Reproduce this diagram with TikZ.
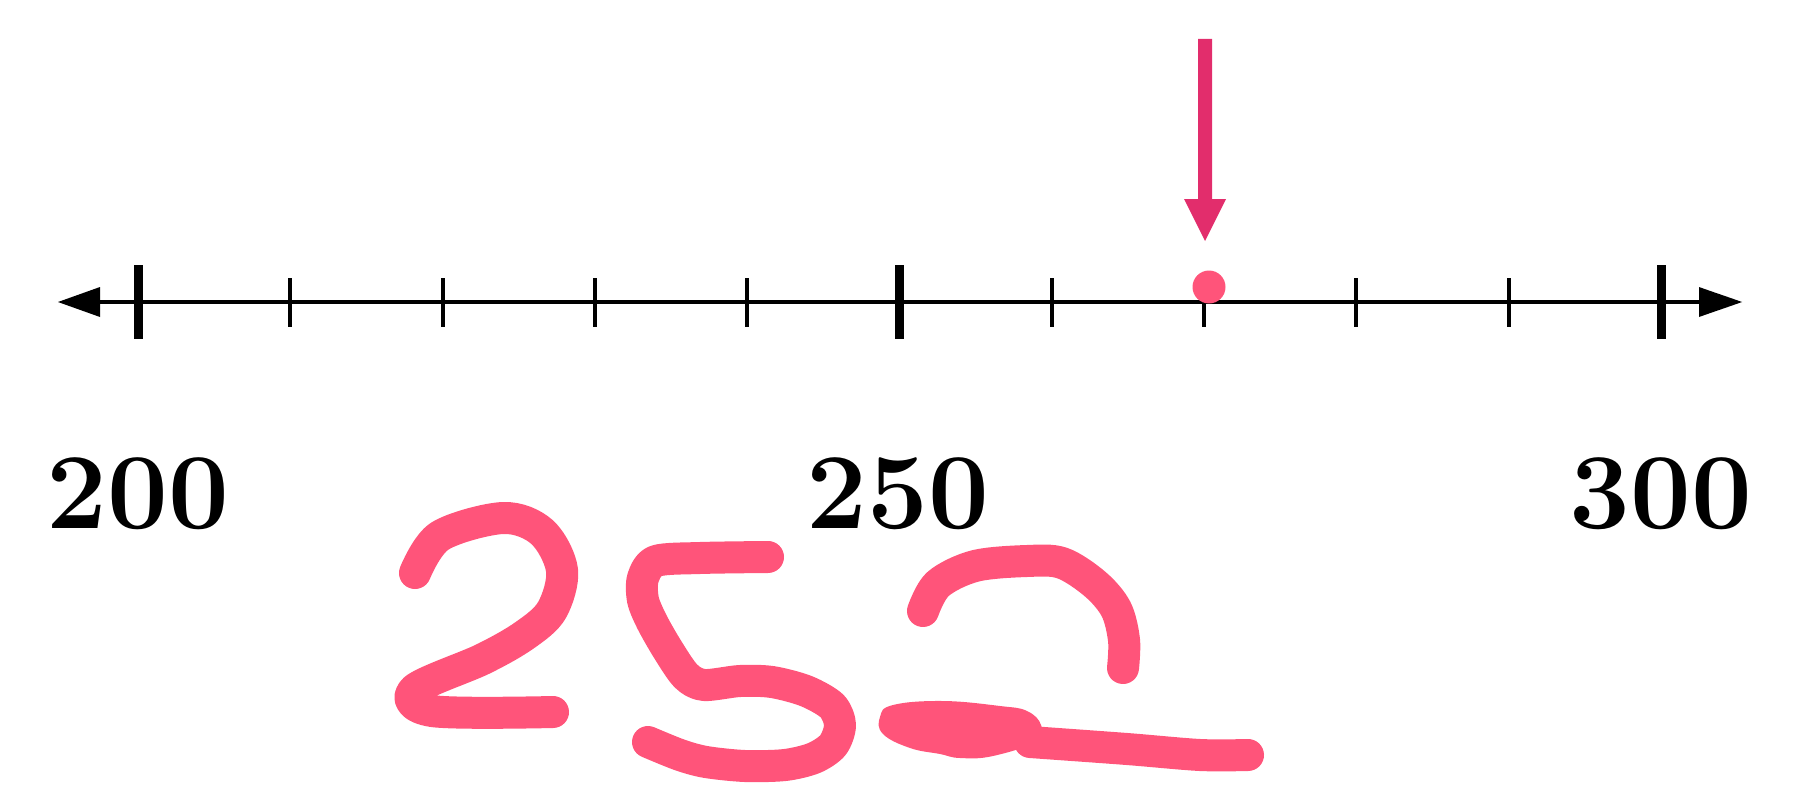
\documentclass[tikz,border=0pt]{standalone}
\usetikzlibrary{arrows.meta}
\definecolor{hand}{RGB}{255,84,122}
\definecolor{arrowpink}{RGB}{226,45,108}
\begin{document}
\begin{tikzpicture}[x=1pt,y=-1pt,
  handline/.style={draw=hand, line width=32pt, line cap=round, line join=round},
  minortick/.style={line width=4pt},
  majortick/.style={line width=9pt},
  numlabel/.style={anchor=base, inner sep=0pt, font=\fontsize{108}{120}\selectfont\bfseries}]
\useasboundingbox (0,0) rectangle (1801,800);
% axis
\coordinate (L) at (95,302);
\coordinate (R) at (1705,302);
\draw[line width=4pt] (L) -- (R);
\fill (58,302) .. controls (72,297) and (86,292) .. (100,287) -- (100,317) .. controls (86,312) and (72,307) .. (58,302) -- cycle;
\fill (1742,302) .. controls (1728,297) and (1713,292) .. (1699,287) -- (1699,317) .. controls (1713,312) and (1728,307) .. (1742,302) -- cycle;
% ticks
\foreach \i in {1,2,3,4,6,7,8,9}
  \draw[minortick] ({138+\i*152.3},278) -- ({138+\i*152.3},327);
\foreach \i in {0,5,10}
  \draw[majortick] ({138+\i*152.3},265) -- ({138+\i*152.3},339);
% labels
\node[numlabel] (n200) at (138,528) {200};
\node[numlabel] (n250) at (898,528) {250};
\node[numlabel] (n300) at (1661,528) {300};
% pink arrow and dot
\fill[arrowpink] (1198,39) -- (1212,39) -- (1212,199) -- (1226,199) -- (1205,241) -- (1184,199) -- (1198,199) -- cycle;
\fill[hand] (1209,287) circle (16.5);
% handwritten 252
\draw[handline] plot[smooth, tension=0.55] coordinates {(415,573) (440,536) (503,518) (542,532) (562,570) (552,610) (525,635) (483,659) (414,690) (432,711) (553,712)};
\draw[handline] plot[smooth, tension=0.5] coordinates {(768,557) (700,558) (656,561) (643,578) (643,600) (652,622) (668,650) (686,676) (704,685) (740,681) (772,682) (806,691) (832,706) (840,725) (833,745) (814,758) (785,765) (745,766) (706,762) (680,755) (648,742)};
\draw[handline] plot[smooth, tension=0.55] coordinates {(923,611) (938,584) (975,566) (1027,561) (1062,563) (1095,584) (1116,609) (1124,640) (1123,668)};
\fill[hand] plot[smooth cycle, tension=0.7] coordinates {(880,717) (893,705) (943,701) (1000,706) (1027,711) (1041,725) (1037,741) (993,756) (960,758) (940,754) (910,748) (883,734)};
\draw[handline] plot[smooth, tension=0.5] coordinates {(1030,742) (1127,749) (1200,755) (1248,755)};
\end{tikzpicture}
\end{document}
